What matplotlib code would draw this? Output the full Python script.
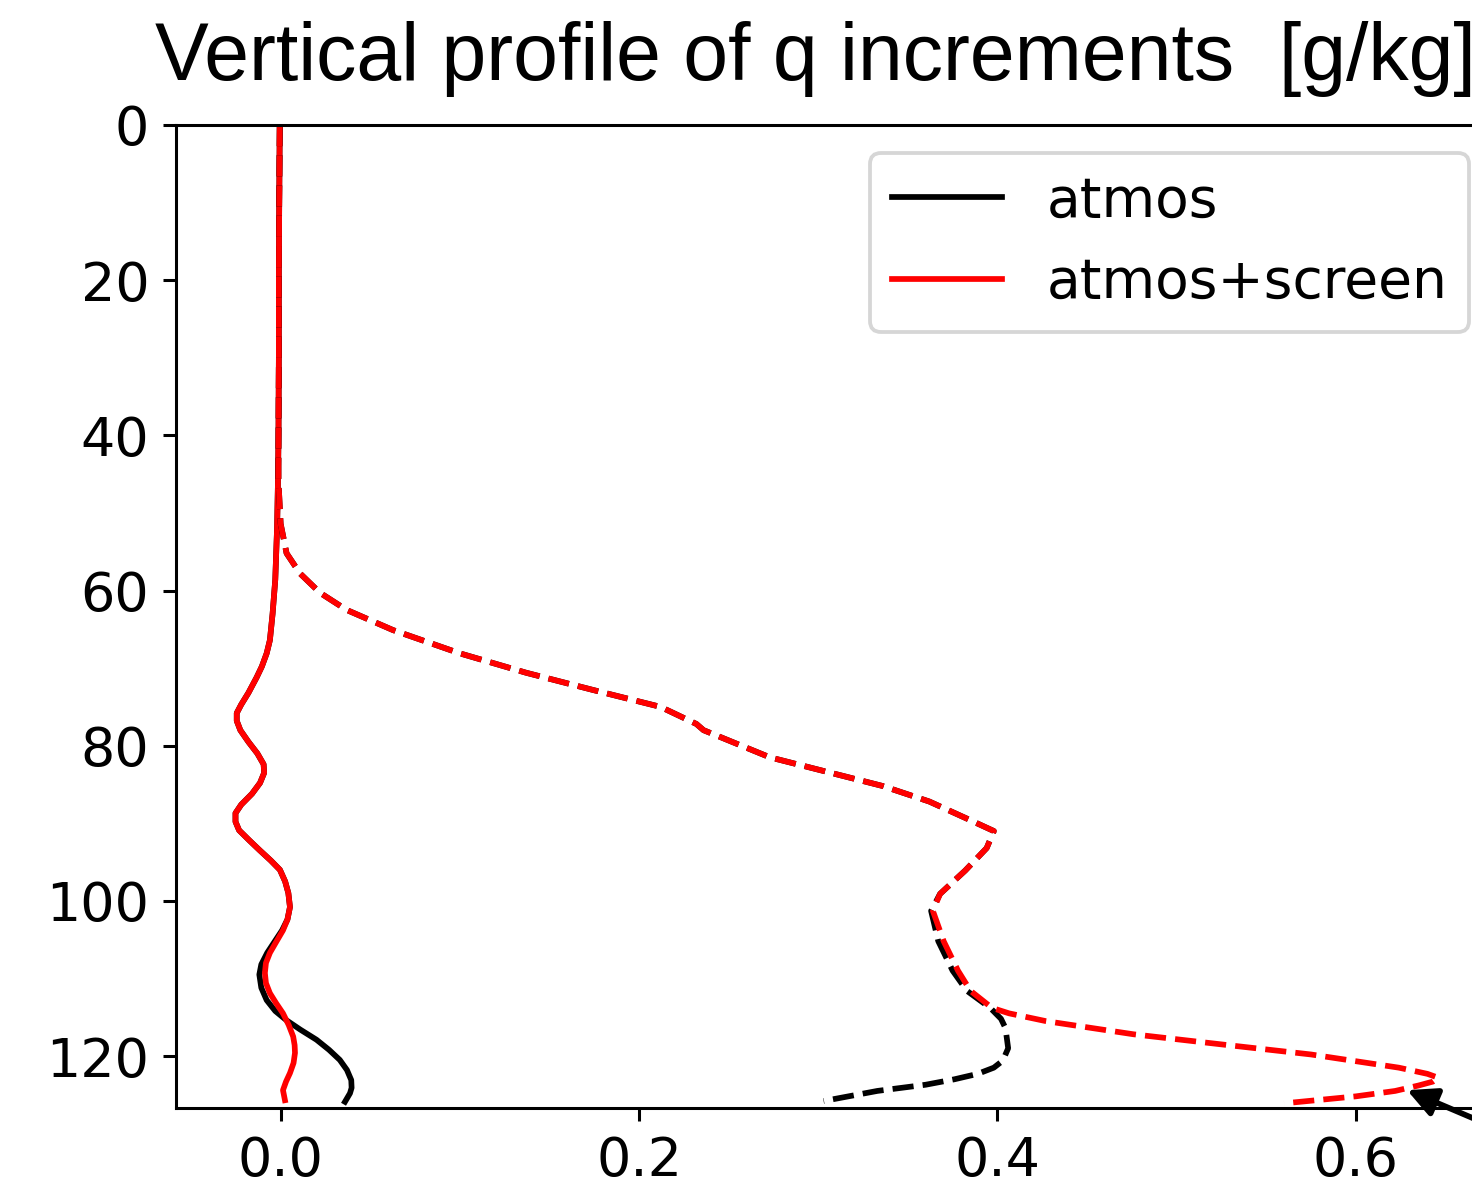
import matplotlib
matplotlib.use("Agg")
import matplotlib.pyplot as plt

# model levels / q increments [g/kg]
lev_atmos = [0, 10, 20, 30, 40, 46, 52, 58.6, 63, 66.4, 68.1, 69.8, 71.2, 73.2, 74.7, 75.8, 76.8,
             78, 79.5, 81, 82.4, 83.5, 84.8, 86.2, 87.6, 88.7, 89.8, 90.9, 92.2, 93.5, 94.8,
             96, 97.5, 99, 100.8, 102.4, 103.8, 105.3, 106.7, 108.2, 109.5, 111.2, 112.8,
             114.2, 115.4, 116.6, 117.9, 119.2, 120.5, 121.8, 123.1, 124.1, 124.8, 125.9]
q_atmos = [-0.0005, -0.0008, -0.001, -0.001, -0.0012, -0.0015, -0.002, -0.003, -0.0045, -0.006,
           -0.0078, -0.0105, -0.0134, -0.018, -0.022, -0.0245, -0.0245, -0.0225, -0.018, -0.013,
           -0.0095, -0.0092, -0.0115, -0.016, -0.022, -0.0252, -0.0252, -0.0232, -0.0175,
           -0.0116, -0.0055, -0.0004, 0.0025, 0.0043, 0.0052, 0.0038, 0.0008, -0.0035, -0.0075,
           -0.0108, -0.0119, -0.0108, -0.0078, -0.003, 0.0033, 0.011, 0.020, 0.027, 0.033,
           0.037, 0.0394, 0.0396, 0.0387, 0.0359]

lev_screen = [0, 10, 20, 30, 40, 46, 52, 58.6, 63, 66.4, 68.1, 69.8, 71.2, 73.2, 74.7, 75.8, 76.8,
              78, 79.5, 81, 82.4, 83.5, 84.8, 86.2, 87.6, 88.7, 89.8, 90.9, 92.2, 93.5, 94.8,
              96, 97.5, 99, 100.8, 102.4, 103.8, 105.3, 106.7, 108, 109.3, 110.6, 111.9, 113.2,
              114.5, 116, 117.5, 118.6, 119.6, 120.9, 122.2, 123.3, 124.4, 125.7]
q_screen = [-0.0005, -0.0008, -0.001, -0.001, -0.0012, -0.0015, -0.002, -0.003, -0.0045, -0.006,
            -0.0078, -0.0105, -0.0134, -0.018, -0.022, -0.0245, -0.0245, -0.0225, -0.018, -0.013,
            -0.0095, -0.0092, -0.0115, -0.016, -0.022, -0.0252, -0.0252, -0.0232, -0.0175,
            -0.0116, -0.0055, -0.0004, 0.0025, 0.0043, 0.0052, 0.0038, 0.0013, -0.0025, -0.006,
            -0.0082, -0.0088, -0.0082, -0.006, -0.0025, 0.0013, 0.0045, 0.007, 0.0078, 0.008,
            0.0072, 0.0052, 0.003, 0.0013, 0.0024]

# dashed profiles
lev_atmos_d = [0, 10, 20, 30, 40, 46, 51.4, 55.2, 57.8, 60.3, 62.5, 65.1, 68.1, 70.6, 72.8, 75,
               77.2, 78, 81.5, 85.2, 87.2, 89.3, 91, 93.2, 96.1, 99.1, 101.3, 105.2, 109,
               111.6, 113.8, 115.2, 116.4, 119, 120.6, 121.5, 122.3, 123, 123.7, 124.5, 125.8]
q_atmos_d = [-0.0005, -0.0008, -0.001, -0.001, -0.0012, -0.0012, 0.0, 0.0033, 0.0108, 0.022,
             0.0368, 0.0627, 0.100, 0.137, 0.174, 0.212, 0.232, 0.236, 0.273, 0.336, 0.362,
             0.382, 0.398, 0.394, 0.382, 0.368, 0.363, 0.367, 0.375, 0.383, 0.396, 0.402,
             0.4045, 0.406, 0.403, 0.398, 0.389, 0.376, 0.36, 0.333, 0.303]

lev_screen_d = [0, 10, 20, 30, 40, 46, 51.4, 55.2, 57.8, 60.3, 62.5, 65.1, 68.1, 70.6, 72.8, 75,
                77.2, 78, 81.5, 85.2, 87.2, 89.3, 91, 93.2, 96.1, 99.1, 101.3, 105.2, 109,
                111.6, 113.8, 114.5, 115.5, 117.2, 118.5, 119.8, 121.5, 122.3, 122.8, 123.3,
                123.8, 124.5, 125.2, 126.1]
q_screen_d = [-0.0005, -0.0008, -0.001, -0.001, -0.0012, -0.0012, 0.0, 0.0033, 0.0108, 0.022,
              0.0368, 0.0627, 0.100, 0.137, 0.174, 0.212, 0.232, 0.236, 0.273, 0.336, 0.362,
              0.382, 0.398, 0.394, 0.382, 0.368, 0.364, 0.370, 0.378, 0.385, 0.397, 0.4065,
              0.427, 0.476, 0.525, 0.575, 0.624, 0.640, 0.646, 0.643, 0.635, 0.622, 0.600, 0.560]

labels = ['atmos', 'atmos+screen']

DPI = 274
fig = plt.figure(figsize=(1472 / DPI, 1182 / DPI), dpi=DPI)
# axes runs a bit past the right edge, as in the cropped reference
ax = fig.add_axes([176 / 1472, 1 - 1108 / 1182, 1321 / 1472, 983 / 1182])

ax.plot(q_atmos, lev_atmos, color='k', lw=1.5, label=labels[0])
ax.plot(q_screen, lev_screen, color='r', lw=1.5, label=labels[1])
ax.plot(q_atmos_d, lev_atmos_d, color='k', lw=1.5, ls='--')
ax.plot(q_screen_d, lev_screen_d, color='r', lw=1.5, ls='--')

ax.set_xlim(-0.0584, 0.6788)
ax.set_ylim(126.7, 0)
ax.set_xticks([0.0, 0.2, 0.4, 0.6])
ax.set_yticks([0, 20, 40, 60, 80, 100, 120])
ax.tick_params(labelsize=14.2)
ax.legend(loc='upper right', fontsize=14.5)

ax.annotate('', xy=(0.6286, 124.4), xytext=(0.705, 131.9),
            arrowprops=dict(arrowstyle='-|>', color='k', lw=1.5, mutation_scale=16,
                            shrinkA=0, shrinkB=0),
            annotation_clip=False)

fig.text(155 / 1472, 1 - 80 / 1182, 'Vertical profile of q increments  [g/kg]',
         family='Liberation Sans', fontsize=21.2, va='baseline', ha='left')

fig.savefig('out.png', dpi=DPI)
